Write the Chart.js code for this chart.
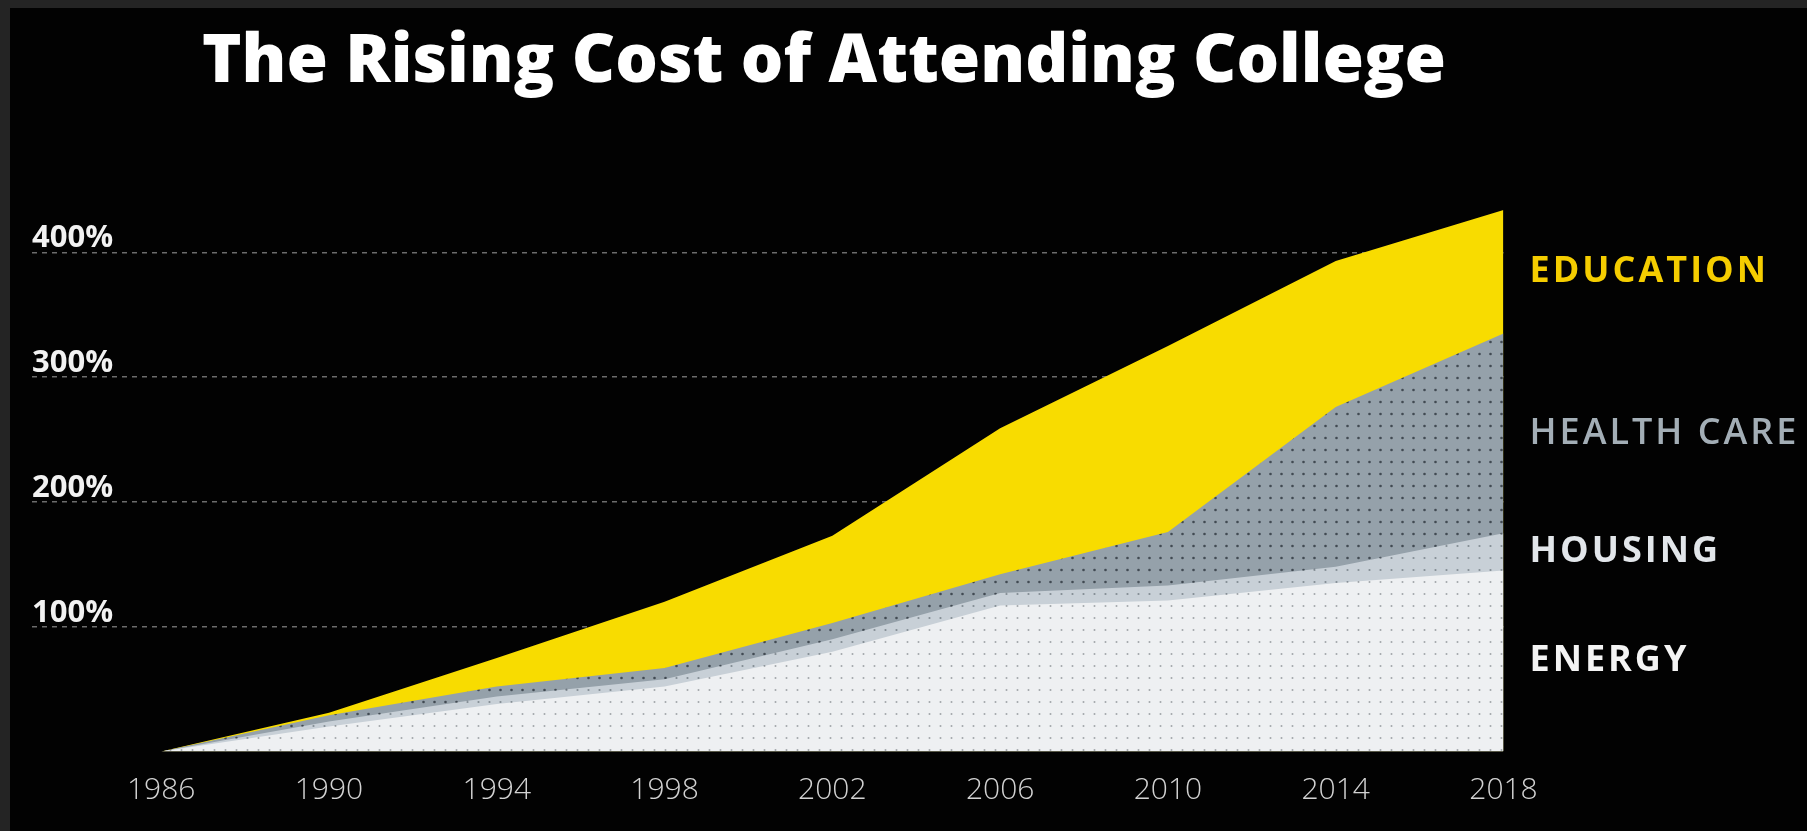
<!DOCTYPE html>
<html>
<head>
<meta charset="utf-8">
<style>
  html, body { margin: 0; padding: 0; background: #000; }
  #wrap { width: 1807px; height: 831px; }
  canvas { display: block; }
</style>
<script src="https://cdn.jsdelivr.net/npm/chart.js@4.4.1/dist/chart.umd.min.js"></script>
</head>
<body>
<div id="wrap"><canvas id="c" width="1807" height="831"></canvas></div>
<script>
// ---- data ----
const chartTitle = 'The Rising Cost of Attending College';
const years = [1986, 1990, 1994, 1998, 2002, 2006, 2010, 2014, 2018];
const xTickLabels = [1986, 1990, 1994, 1998, 2002, 2006, 2010, 2014, 2018];
const yTickValues = [100, 200, 300, 400];
const seriesNames = ['EDUCATION', 'HEALTH CARE', 'HOUSING', 'ENERGY'];
const education  = [0, 31, 75, 120, 173, 259, 325, 393, 434];
const healthCare = [0, 29, 52, 67, 103, 142, 176, 276, 335];
const housing    = [0, 24, 44, 58, 90, 127, 133, 148, 175];
const energy     = [0, 20, 38, 52, 80, 117, 121, 135, 145];

// ---- styles ----
function dotPattern(bg, dot, w, h, r) {
  const c = document.createElement('canvas');
  c.width = w; c.height = h;
  const x = c.getContext('2d');
  x.fillStyle = bg; x.fillRect(0, 0, w, h);
  x.fillStyle = dot;
  x.beginPath(); x.arc(w / 2, h / 2, r, 0, Math.PI * 2); x.fill();
  return x.createPattern(c, 'repeat');
}
const fills = [
  '#f8dc00',
  dotPattern('#95a1aa', '#414a52', 11, 12, 1.3),
  dotPattern('#c8d0d7', '#838c94', 11, 12, 1.1),
  dotPattern('#eef0f2', '#a2a7ab', 11, 12, 1.0)
];
const labelColors = ['#f5cd00', '#a3aeb6', '#e2e6ea', '#f4f4f4'];
const seriesValues = [education, healthCare, housing, energy];

const toXY = arr => arr.map((v, i) => ({ x: years[i], y: v }));

const datasets = seriesValues.map((vals, i) => ({
  label: seriesNames[i],
  data: toXY(vals),
  backgroundColor: fills[i],
  borderWidth: 0,
  pointRadius: 0,
  tension: 0,
  fill: 'origin',
  order: seriesValues.length - i
}));

const backgroundPlugin = {
  id: 'bg',
  beforeDraw(chart) {
    const ctx = chart.ctx;
    ctx.save();
    ctx.fillStyle = '#242424';
    ctx.fillRect(0, 0, chart.width, chart.height);
    ctx.fillStyle = '#020202';
    ctx.fillRect(10, 8, chart.width - 10, chart.height - 8);
    ctx.restore();
  }
};

const titlePlugin = {
  id: 'customTitle',
  afterDraw(chart) {
    const ctx = chart.ctx;
    ctx.save();
    ctx.font = '800 67px "Open Sans"';
    ctx.fillStyle = '#ffffff';
    ctx.textAlign = 'left';
    ctx.textBaseline = 'alphabetic';
    ctx.fillText(chartTitle, 202, 82);
    ctx.restore();
  }
};

const seriesLabelPlugin = {
  id: 'seriesLabels',
  afterDatasetsDraw(chart) {
    const ctx = chart.ctx;
    const yScale = chart.scales.y;
    const last = years.length - 1;
    ctx.save();
    ctx.textAlign = 'left';
    ctx.textBaseline = 'middle';
    try { ctx.letterSpacing = '3px'; } catch (e) {}
    seriesValues.forEach((vals, i) => {
      const top = vals[last];
      const below = i + 1 < seriesValues.length ? seriesValues[i + 1][last] : 0;
      const y = yScale.getPixelForValue((top + below) / 2);
      ctx.font = (i === 1 ? '600' : '700') + ' 36px "Open Sans"';
      ctx.fillStyle = labelColors[i];
      ctx.fillText(seriesNames[i], chart.chartArea.right + 26, y);
    });
    ctx.restore();
  }
};

new Chart(document.getElementById('c'), {
  type: 'line',
  data: { datasets },
  options: {
    responsive: false,
    animation: false,
    devicePixelRatio: 1,
    layout: { padding: { left: 32, right: 303.5, top: 190, bottom: 2.5 } },
    plugins: {
      legend: { display: false },
      title: { display: false },
      tooltip: { enabled: false }
    },
    scales: {
      x: {
        type: 'linear',
        min: 1982.92,
        max: 2018,
        grid: { display: false, drawTicks: false },
        border: { display: false },
        afterBuildTicks: axis => { axis.ticks = xTickLabels.map(v => ({ value: v })); },
        ticks: {
          color: '#d2d2d2',
          padding: 20.5,
          maxRotation: 0,
          autoSkip: false,
          font: { family: '"Open Sans"', size: 30, weight: 300 },
          callback: v => String(v)
        }
      },
      y: {
        min: 0,
        max: 450,
        grid: { color: 'rgba(255,255,255,0.42)', lineWidth: 1.5, drawTicks: false },
        border: { display: false, dash: [5, 5] },
        afterBuildTicks: axis => { axis.ticks = yTickValues.map(v => ({ value: v })); },
        ticks: {
          mirror: true,
          padding: 0,
          labelOffset: -14,
          color: '#f2f2f2',
          font: { family: '"Open Sans"', size: 31, weight: 700 },
          callback: v => v + '%'
        }
      }
    }
  },
  plugins: [backgroundPlugin, titlePlugin, seriesLabelPlugin]
});
</script>
</body>
</html>
